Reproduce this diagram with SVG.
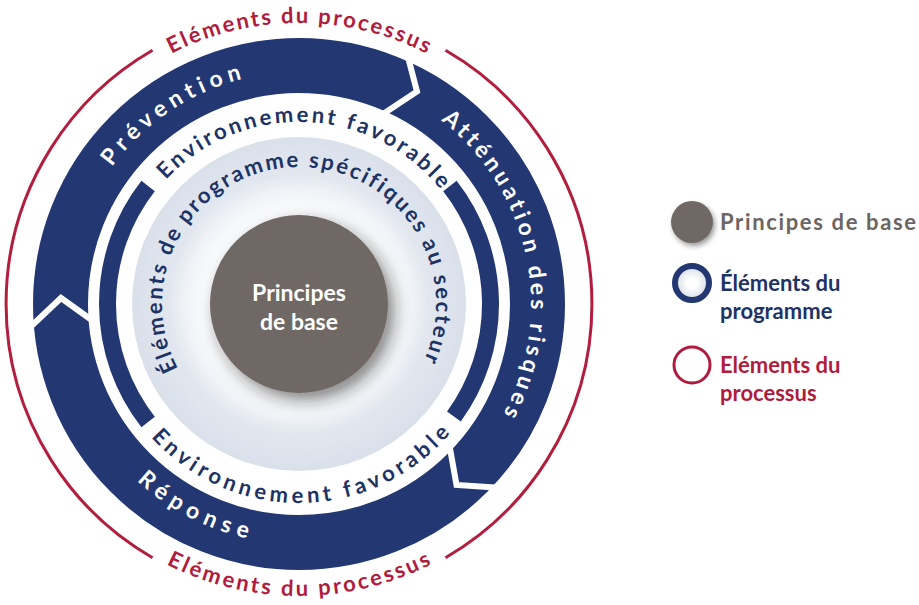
<svg xmlns="http://www.w3.org/2000/svg" width="919" height="605" viewBox="0 0 919 605">
<style>
.t{font-family:Lato,"Open Sans","Liberation Sans",sans-serif;font-weight:700;font-variant-ligatures:none}
.w{fill:#ffffff;font-size:23px}
.n{fill:#1d3366;font-size:22px}
.r{fill:#b01c3d;font-size:22px}
.lg{font-size:22px}
.chev{fill:none;stroke:#ffffff;stroke-width:6;stroke-linejoin:miter}
</style>
<defs>
<radialGradient id="lightRing" cx="299" cy="304" r="167" gradientUnits="userSpaceOnUse">
<stop offset="0.5" stop-color="#ffffff"/>
<stop offset="0.68" stop-color="#f0f3f7"/>
<stop offset="0.78" stop-color="#e2e7ef"/>
<stop offset="1" stop-color="#dae0ea"/>
</radialGradient>
<radialGradient id="legRing" cx="0.5" cy="0.5" r="0.5">
<stop offset="0.3" stop-color="#ffffff"/>
<stop offset="1" stop-color="#d3d9e4"/>
</radialGradient>
<filter id="shadow" x="-40%" y="-40%" width="190%" height="190%">
<feDropShadow dx="6" dy="7" stdDeviation="8" flood-color="#222222" flood-opacity="0.55"/>
</filter>
<filter id="shadowSm" x="-40%" y="-40%" width="190%" height="190%">
<feDropShadow dx="2" dy="3" stdDeviation="2.5" flood-color="#222222" flood-opacity="0.45"/>
</filter>
<path id="cw281" d="M 250.2 580.7 A 281 281 0 1 1 347.8 580.7"/>
<path id="cw232" d="M 258.7 532.5 A 232 232 0 1 1 339.3 532.5"/>
<path id="cw182" d="M 267.4 483.2 A 182 182 0 1 1 330.6 483.2"/>
<path id="cw137" d="M 275.2 438.9 A 137 137 0 1 1 322.8 438.9"/>
<path id="ccw292" d="M 248.3 16.4 A 292 292 0 1 0 349.7 16.4"/>
<path id="ccw240" d="M 257.3 67.6 A 240 240 0 1 0 340.7 67.6"/>
<path id="ccw199" d="M 264.4 108 A 199 199 0 1 0 333.6 108"/>
</defs>
<rect width="919" height="605" fill="#ffffff"/>

<g id="process-ring">
<path d="M 445.5 50.3 A 293 293 0 0 1 445.5 557.7" fill="none" stroke="#b21e3e" stroke-width="3"/>
<path d="M 152.5 557.7 A 293 293 0 0 1 152.5 50.3" fill="none" stroke="#b21e3e" stroke-width="3"/>
<text class="t r"><textPath href="#cw281" startOffset="50%" text-anchor="middle" textLength="265">Eléments du processus</textPath></text>
<text class="t r"><textPath href="#ccw292" startOffset="50%" text-anchor="middle" textLength="275">Eléments du processus</textPath></text>
</g>

<g id="process-band">
<circle cx="299" cy="304" r="238.5" fill="none" stroke="#233872" stroke-width="55"/>
</g>

<g id="connectors">
<polyline class="chev" points="405.5,47.5 417,91.5 375.5,119"/>
<polyline class="chev" points="503,488 456.5,485 448,437"/>
<polyline class="chev" points="24,333 61,298 100,326"/>
</g>

<g id="prevention">
<text class="t w" transform="rotate(-34 299 304)"><textPath href="#cw232" startOffset="50%" text-anchor="middle" textLength="160">Prévention</textPath></text>
</g>
<g id="attenuation">
<text class="t w" transform="rotate(78 299 304)"><textPath href="#cw232" startOffset="50%" text-anchor="middle" textLength="326">Atténuation des risques</textPath></text>
</g>
<g id="reponse">
<text class="t w" transform="rotate(27.5 299 304)"><textPath href="#ccw240" startOffset="50%" text-anchor="middle" textLength="126">Réponse</textPath></text>
</g>

<g id="environnement">
<path d="M 449.9 186.1 A 191.5 191.5 0 0 1 453.9 416.6" fill="none" stroke="#233872" stroke-width="17"/>
<path d="M 148.1 421.9 A 191.5 191.5 0 0 1 148.1 186.1" fill="none" stroke="#233872" stroke-width="17"/>
<text class="t n" transform="rotate(2 299 304)"><textPath href="#cw182" startOffset="50%" text-anchor="middle" textLength="311">Environnement favorable</textPath></text>
<text class="t n" transform="rotate(-0.75 299 304)"><textPath href="#ccw199" startOffset="50%" text-anchor="middle" textLength="338">Environnement favorable</textPath></text>
</g>

<g id="programme">
<circle cx="299" cy="304" r="167" fill="url(#lightRing)"/>
<text class="t n" transform="rotate(-2 299 304)"><textPath href="#cw137" startOffset="50%" text-anchor="middle" textLength="555">Éléments de programme spécifiques au secteur</textPath></text>
</g>

<g id="principes">
<circle cx="299" cy="304" r="89" fill="#6f6865" filter="url(#shadow)"/>
<text class="t w" x="299" y="301" text-anchor="middle" font-size="24">Principes</text>
<text class="t w" x="299" y="330" text-anchor="middle" font-size="24">de base</text>
</g>

<g id="legend-principes">
<circle cx="692" cy="222" r="21" fill="#6f6865" filter="url(#shadowSm)"/>
<text class="t lg" x="720" y="230" fill="#6c6562" textLength="196">Principes de base</text>
</g>
<g id="legend-programme">
<circle cx="692" cy="283" r="17" fill="url(#legRing)" stroke="#233872" stroke-width="6"/>
<text class="t lg" x="720" y="291" fill="#1d3366">Éléments du</text>
<text class="t lg" x="720" y="319" fill="#1d3366">programme</text>
</g>
<g id="legend-processus">
<circle cx="692" cy="365" r="18" fill="#ffffff" stroke="#b01c3d" stroke-width="3"/>
<text class="t lg" x="720" y="373" fill="#b01c3d">Eléments du</text>
<text class="t lg" x="720" y="401" fill="#b01c3d">processus</text>
</g>
</svg>
